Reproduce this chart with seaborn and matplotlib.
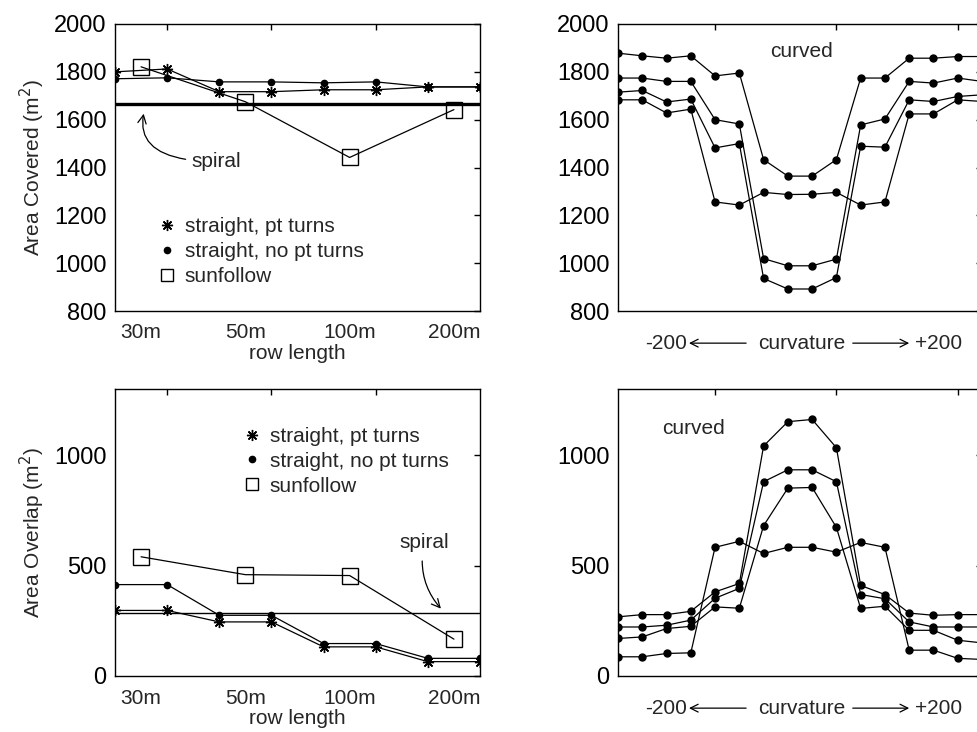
import numpy as np
import pandas as pd
import matplotlib
matplotlib.use('Agg')
import matplotlib.pyplot as plt
import seaborn as sns
from matplotlib.lines import Line2D

sns.set_theme(style='white')
plt.rcParams['font.family'] = ['Liberation Sans', 'DejaVu Sans']

# ---------------- data ----------------
row_pos = [1, 2, 3, 4, 5, 6, 7, 8]
sun_pos = [1.5, 3.5, 5.5, 7.5]
row_labels = ['30m', '50m', '100m', '200m']

cover_pt = [1800, 1812, 1717, 1717, 1725, 1725, 1737, 1737]
cover_nopt = [1771, 1775, 1758, 1758, 1754, 1758, 1737, 1737]
cover_sun = [1821, 1675, 1442, 1642]
cover_spiral = 1667

overlap_pt = [297, 297, 245, 245, 132, 132, 65, 65]
overlap_nopt = [414, 414, 275, 275, 147, 147, 80, 80]
overlap_sun = [540, 459, 455, 167]
overlap_spiral = 284

curv_idx = list(range(1, 17))
cover_curved_a = [1878, 1867, 1857, 1867, 1783, 1795, 1433, 1364, 1364, 1433, 1774, 1774, 1857, 1857, 1864, 1864]
cover_curved_b = [1774, 1774, 1760, 1760, 1600, 1582, 1019, 989, 989, 1017, 1578, 1603, 1760, 1753, 1774, 1760]
cover_curved_c = [1715, 1722, 1674, 1686, 1482, 1500, 936, 892, 892, 940, 1489, 1485, 1683, 1676, 1697, 1704]
cover_curved_d = [1683, 1683, 1628, 1644, 1256, 1243, 1296, 1287, 1288, 1296, 1243, 1256, 1624, 1624, 1683, 1676]

overlap_curved_a = [268, 278, 278, 293, 381, 419, 1042, 1152, 1162, 1034, 410, 369, 285, 275, 278, 278]
overlap_curved_b = [222, 222, 230, 253, 352, 397, 880, 934, 934, 880, 369, 350, 245, 222, 222, 222]
overlap_curved_c = [170, 177, 215, 225, 313, 307, 681, 851, 854, 673, 306, 316, 207, 207, 162, 150]
overlap_curved_d = [87, 87, 102, 105, 583, 610, 555, 583, 583, 561, 605, 583, 117, 117, 80, 75]

legend_labels = ['straight, pt turns', 'straight, no pt turns', 'sunfollow']

# ---------------- figure ----------------
W, H = 977, 732
fig = plt.figure(figsize=(W / 100, H / 100), dpi=100)
fig.patch.set_facecolor('white')


def px_axes(x0, y0, x1, y1):
    return fig.add_axes([x0 / W, 1 - y1 / H, (x1 - x0) / W, (y1 - y0) / H])


ax_tl = px_axes(115, 24, 480, 311)
ax_bl = px_axes(115, 389, 480, 676)
ax_tr = px_axes(618, 24, 982, 311)
ax_br = px_axes(618, 389, 982, 676)

FS = 15
YFS = 17
STAR = (8, 2, 0)

for ax in (ax_tl, ax_bl, ax_tr, ax_br):
    ax.set_facecolor('white')
    for s in ax.spines.values():
        s.set_color('black')
        s.set_linewidth(1.0)
        s.set_visible(True)
    ax.tick_params(axis='both', which='major', direction='in', top=True, right=True,
                   length=4, width=1, color='black', labelcolor='black', pad=7)
    ax.tick_params(axis='y', labelsize=YFS, pad=6)
    ax.tick_params(axis='x', labelsize=FS)
    ax.grid(False)


def draw_line(ax, x, y, marker, ms, mfc):
    sns.lineplot(x=x, y=y, ax=ax, color='black', lw=0.9, marker=marker, markersize=ms,
                 markeredgecolor='black', markerfacecolor=mfc, markeredgewidth=1.0,
                 sort=False, legend=False)


def setup_left(ax, ylim, yticks):
    ax.set_xlim(1, 8)
    ax.set_ylim(*ylim)
    ax.set_yticks(yticks)
    ax.set_xticks([2, 4, 6])
    ax.set_xticklabels([])
    ax.set_xticks(sun_pos, minor=True)
    ax.set_xticklabels(row_labels, minor=True)
    ax.tick_params(axis='x', which='minor', length=0, labelsize=FS, pad=9, bottom=True, top=False)
    ax.set_xlabel('row length', fontsize=FS, labelpad=1)


def legend_left(ax, anchor):
    handles = [
        Line2D([], [], ls='none', marker=STAR, markersize=8, color='black', markeredgewidth=1),
        Line2D([], [], ls='none', marker='o', markersize=4.5, color='black'),
        Line2D([], [], ls='none', marker='s', markersize=9, markerfacecolor='none',
               markeredgecolor='black', markeredgewidth=1),
    ]
    ax.legend(handles, legend_labels, frameon=False, loc='upper left', bbox_to_anchor=anchor,
              fontsize=FS, handlelength=0.8, handletextpad=0.45, labelspacing=0.28, borderaxespad=0)


# ---- top-left: area covered vs row length ----
ax = ax_tl
ax.axhline(cover_spiral, color='black', lw=2.4)
draw_line(ax, row_pos, cover_pt, STAR, 8, 'black')
draw_line(ax, row_pos, cover_nopt, 'o', 4.5, 'black')
draw_line(ax, sun_pos, cover_sun, 's', 12, 'none')
setup_left(ax, (800, 2000), [800, 1000, 1200, 1400, 1600, 1800, 2000])
ax.set_ylabel('Area Covered (m$^2$)', fontsize=FS, labelpad=5)
legend_left(ax, (0.097, 0.355))
ax.annotate('spiral', xy=(1.55, 1625), xytext=(2.47, 1425), fontsize=FS, va='center', ha='left',
            arrowprops=dict(arrowstyle='->', color='black', lw=0.9, shrinkA=2, shrinkB=0,
                            connectionstyle='angle3,angleA=0,angleB=80'))

# ---- bottom-left: area overlap vs row length ----
ax = ax_bl
ax.axhline(overlap_spiral, color='black', lw=1.0)
draw_line(ax, row_pos, overlap_pt, STAR, 8, 'black')
draw_line(ax, row_pos, overlap_nopt, 'o', 4.5, 'black')
draw_line(ax, sun_pos, overlap_sun, 's', 12, 'none')
setup_left(ax, (0, 1300), [0, 500, 1000])
ax.set_ylabel('Area Overlap (m$^2$)', fontsize=FS, labelpad=5)
legend_left(ax, (0.33, 0.897))
ax.annotate('spiral', xy=(7.25, 305), xytext=(6.93, 604), fontsize=FS, va='center', ha='center',
            arrowprops=dict(arrowstyle='->', color='black', lw=0.9, shrinkA=4, shrinkB=0,
                            connectionstyle='arc3,rad=0.25'))


# ---- right panels: curvature ----
def setup_right(ax, ylim, yticks):
    ax.set_xlim(1, 16)
    ax.set_ylim(*ylim)
    ax.set_yticks(yticks)
    ax.set_xticks([5, 10, 15])
    ax.set_xticklabels([])
    yl = -0.112
    ax.text(0.19, yl, '-200', transform=ax.transAxes, ha='right', va='center', fontsize=FS)
    ax.text(0.505, yl, 'curvature', transform=ax.transAxes, ha='center', va='center', fontsize=FS)
    ax.text(0.815, yl, '+200', transform=ax.transAxes, ha='left', va='center', fontsize=FS)
    ax.annotate('', xy=(0.195, yl), xytext=(0.352, yl), xycoords='axes fraction',
                textcoords='axes fraction',
                arrowprops=dict(arrowstyle='->', color='black', lw=0.9, shrinkA=0, shrinkB=0,
                                mutation_scale=14), annotation_clip=False)
    ax.annotate('', xy=(0.80, yl), xytext=(0.645, yl), xycoords='axes fraction',
                textcoords='axes fraction',
                arrowprops=dict(arrowstyle='->', color='black', lw=0.9, shrinkA=0, shrinkB=0,
                                mutation_scale=14), annotation_clip=False)


ax = ax_tr
for ys in (cover_curved_a, cover_curved_b, cover_curved_c, cover_curved_d):
    draw_line(ax, curv_idx, ys, 'o', 5, 'black')
setup_right(ax, (800, 2000), [800, 1000, 1200, 1400, 1600, 1800, 2000])
ax.text(8.55, 1883, 'curved', ha='center', va='center', fontsize=FS)

ax = ax_br
for ys in (overlap_curved_a, overlap_curved_b, overlap_curved_c, overlap_curved_d):
    draw_line(ax, curv_idx, ys, 'o', 5, 'black')
setup_right(ax, (0, 1300), [0, 500, 1000])
ax.text(4.1, 1123, 'curved', ha='center', va='center', fontsize=FS)

fig.savefig('out.png', dpi=100, facecolor='white')
